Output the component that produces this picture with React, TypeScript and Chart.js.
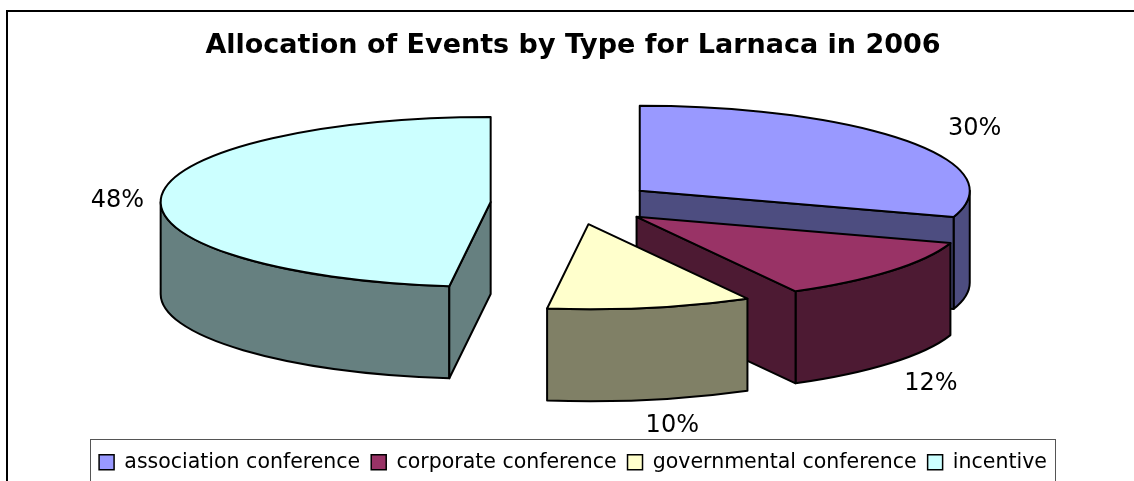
import React, { useEffect, useRef } from "react";
import { Chart, registerables } from "chart.js";

Chart.register(...registerables);

const categories = ["association conference", "corporate conference", "governmental conference", "incentive"];
const shares = [30, 12, 10, 48];
const topColors = ["#9999FF", "#993366", "#FFFFCC", "#CCFFFF"];
const wallColors = ["#4D4D80", "#4D1A33", "#808066", "#668080"];
const titleText = "Allocation of Events by Type for Larnaca in 2006";
const drawOrder = [0, 3, 1, 2];

// Projection of the flat Chart.js pie into the oblique 3D view.
const PIE_RX = 330;
const PIE_RY = 85;
const PIE_DEPTH = 92;
const PIE_CENTER_Y = 203.3;
const EXPLODE = 82.5 / 330;
const labelNudges = [[68, -12], [40, 21], [22, 26], [-44, 4]];

const FONT = "'DejaVu Sans', sans-serif";

const pie3d = {
  id: "pie3d",
  beforeDatasetsDraw(chart: any) {
    const ctx = chart.ctx;
    const meta = chart.getDatasetMeta(0);
    const geo = meta.data.map((arc: any) => {
      const mid = (arc.startAngle + arc.endAngle) / 2;
      return {
        cx: arc.x + Math.cos(mid) * EXPLODE * PIE_RX,
        cy: PIE_CENTER_Y + Math.sin(mid) * EXPLODE * PIE_RY,
        mid,
      };
    });
    ctx.save();
    ctx.lineWidth = 2;
    ctx.strokeStyle = "#000";
    ctx.lineJoin = "round";
    for (const i of drawOrder) {
      const arc = meta.data[i];
      const { cx, cy } = geo[i];
      const a0 = arc.startAngle;
      const a1 = arc.endAngle;
      const pt = (a: number) => [cx + Math.cos(a) * PIE_RX, cy + Math.sin(a) * PIE_RY];
      ctx.fillStyle = wallColors[i];
      // outer curved wall: the part of the rim facing the viewer
      const b0 = Math.max(a0, 0);
      const b1 = Math.min(a1, Math.PI);
      if (b1 > b0) {
        ctx.beginPath();
        ctx.ellipse(cx, cy, PIE_RX, PIE_RY, 0, b0, b1);
        ctx.ellipse(cx, cy + PIE_DEPTH, PIE_RX, PIE_RY, 0, b1, b0, true);
        ctx.closePath();
        ctx.fill();
        ctx.stroke();
      }
      // radial cut walls
      const radial = (a: number) => {
        const [x, y] = pt(a);
        ctx.beginPath();
        ctx.moveTo(cx, cy);
        ctx.lineTo(x, y);
        ctx.lineTo(x, y + PIE_DEPTH);
        ctx.lineTo(cx, cy + PIE_DEPTH);
        ctx.closePath();
        ctx.fill();
        ctx.stroke();
      };
      if (-Math.cos(a0) > 0) radial(a0);
      if (Math.cos(a1) > 0) radial(a1);
      // top face: the library's own arc element, squashed into the ellipse
      ctx.save();
      ctx.translate(cx, cy);
      ctx.scale(PIE_RX / arc.outerRadius, PIE_RY / arc.outerRadius);
      ctx.translate(-arc.x, -arc.y);
      arc.draw(ctx);
      ctx.restore();
      ctx.beginPath();
      ctx.moveTo(cx, cy);
      ctx.ellipse(cx, cy, PIE_RX, PIE_RY, 0, a0, a1);
      ctx.closePath();
      ctx.stroke();
    }
    // percentage labels
    ctx.fillStyle = "#000";
    ctx.font = `24px ${FONT}`;
    ctx.textAlign = "center";
    ctx.textBaseline = "middle";
    const total = shares.reduce((s, v) => s + v, 0);
    meta.data.forEach((_: any, i: number) => {
      const { cx, cy, mid } = geo[i];
      const wall = Math.sin(mid) > 0 ? PIE_DEPTH : 0;
      const x = cx + Math.cos(mid) * PIE_RX + labelNudges[i][0];
      const y = cy + Math.sin(mid) * PIE_RY + wall + labelNudges[i][1];
      ctx.fillText(`${Math.round((shares[i] / total) * 100)}%`, x, y);
    });
    ctx.restore();
    return false;
  },
  beforeDraw(chart: any) {
    const ctx = chart.ctx;
    ctx.save();
    ctx.fillStyle = "#fff";
    ctx.fillRect(0, 0, chart.width, chart.height);
    ctx.strokeStyle = "#000";
    ctx.lineWidth = 2;
    // the frame runs off the right and bottom edges of the picture
    ctx.strokeRect(7, 11, 1200, 600);
    ctx.restore();
  },
  afterDraw(chart: any) {
    const ctx = chart.ctx;
    const boxes = chart.legend.legendHitBoxes;
    const left = Math.min(...boxes.map((b: any) => b.left));
    const right = Math.max(...boxes.map((b: any) => b.left + b.width));
    const top = boxes[0].top;
    ctx.save();
    ctx.strokeStyle = "#555";
    ctx.lineWidth = 1;
    const x0 = Math.round(left - 9) + 0.5;
    const y0 = Math.round(top - 13) + 0.5;
    ctx.strokeRect(x0, y0, Math.round(right + 8) + 0.5 - x0, 60);
    ctx.restore();
  },
};

export default function App() {
  const ref = useRef<HTMLCanvasElement>(null);
  useEffect(() => {
    const chart = new Chart(ref.current as HTMLCanvasElement, {
      type: "pie",
      data: {
        labels: categories,
        datasets: [{ data: shares, backgroundColor: topColors, borderWidth: 0 }],
      },
      options: {
        animation: false,
        responsive: false,
        layout: { padding: { left: 12, right: 0, top: 0, bottom: -1.5 } },
        plugins: {
          tooltip: { enabled: false },
          title: {
            display: true,
            text: titleText,
            color: "#000",
            font: { family: FONT, size: 27, weight: "bold" },
            padding: { top: 30, bottom: 0 },
          },
          legend: {
            position: "bottom",
            labels: {
              color: "#000",
              font: { family: FONT, size: 20.5 },
              boxWidth: 15,
              boxHeight: 15,
              padding: 11,
              generateLabels: () =>
                categories.map((text, i) => ({
                  text,
                  fillStyle: topColors[i],
                  strokeStyle: "#000",
                  lineWidth: 1.5,
                  index: i,
                  hidden: false,
                })),
            },
          },
        },
      },
      plugins: [pie3d],
    } as any);
    return () => chart.destroy();
  }, []);
  return (
    <canvas
      ref={ref}
      width={1134}
      height={481}
      style={{ position: "absolute", left: 0, top: 0, display: "block" }}
    />
  );
}
